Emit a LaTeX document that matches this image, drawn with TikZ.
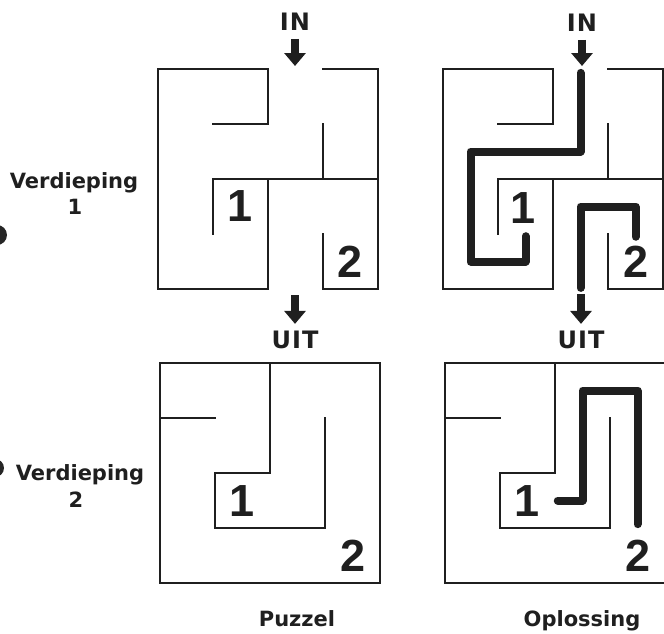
\documentclass[tikz,border=0pt]{standalone}
\usepackage{fontspec}
\setmainfont{DejaVu Sans}
\newfontfamily\digitfont{Liberation Sans}
\usetikzlibrary{arrows.meta}
\begin{document}
\begin{tikzpicture}[x=1pt,y=-1pt,
  wall/.style={line width=2.4pt, line cap=rect, color=black!88},
  sol/.style={line width=8pt, line cap=round, line join=round, color=black!88},
  lbl/.style={font=\fontsize{21}{23}\selectfont\bfseries, inner sep=0pt, text=black!88},
  biglbl/.style={font=\fontsize{24}{26}\selectfont\bfseries, inner sep=0pt, text=black!88},
  num/.style={font=\fontsize{45}{45}\selectfont\digitfont\bfseries, inner sep=0pt, text=black!88},
  arr/.style={line width=7.5pt, -{Triangle[width=21pt,length=13pt]}, color=black!88},
  blob/.style={fill=black!85}]
\useasboundingbox (0,0) rectangle (664,633);

% ---- Floor 1 walls (puzzle and solution) ----
\foreach \ox in {158,443}{
\begin{scope}[shift={(\ox,69)}, x=55pt, y=-55pt]
  \draw[wall] (2,0)--(0,0)--(0,4)--(2,4);
  \draw[wall] (3,0)--(4,0)--(4,4)--(3,4)--(3,3);
  \draw[wall] (2,0)--(2,1)--(1,1);
  \draw[wall] (3,1)--(3,2);
  \draw[wall] (1,3)--(1,2)--(4,2);
  \draw[wall] (2,2)--(2,4);
\end{scope}
}
% ---- Floor 2 walls ----
\foreach \ox in {160,445}{
\begin{scope}[shift={(\ox,363)}, x=55pt, y=-55pt]
  \draw[wall] (0,0) rectangle (4,4);
  \draw[wall] (2,0)--(2,2)--(1,2)--(1,3)--(3,3)--(3,1);
  \draw[wall] (0,1)--(1,1);
\end{scope}
}

% ---- Solution paths ----
\begin{scope}[shift={(443,69)}, x=55pt, y=-55pt]
  \draw[sol] (2.5,0.07)--(2.5,1.5)--(0.5,1.5)--(0.5,3.5)--(1.5,3.5)--(1.5,3.04);
  \draw[sol] (2.5,3.98)--(2.5,2.5)--(3.5,2.5)--(3.5,3.05);
\end{scope}
\begin{scope}[shift={(445,363)}, x=55pt, y=-55pt]
  \draw[sol] (2.05,2.5)--(2.5,2.5)--(2.5,0.5)--(3.5,0.5)--(3.5,2.93);
\end{scope}

% ---- Numbers ----
\node[num] (n1a) at (240.5,206.5) {1};
\node[num] (n2a) at (350.5,262) {2};
\node[num] (n1b) at (523,208) {1};
\node[num] (n2b) at (636,262) {2};
\node[num] (n1c) at (242.5,501) {1};
\node[num] (n2c) at (353,556) {2};
\node[num] (n1d) at (527,501) {1};
\node[num] (n2d) at (638,556) {2};

% ---- IN / UIT labels and arrows ----
\node[biglbl] (inL) at (295,22) {I\kern1pt N};
\node[biglbl] (inR) at (582,23) {I\kern1pt N};
\node[biglbl] (uitL) at (295,340) {U\kern1pt I\kern1pt T};
\node[biglbl] (uitR) at (581,340) {U\kern1pt I\kern1pt T};
\coordinate (inLtip) at (295,66);
\coordinate (inRtip) at (582,66);
\coordinate (uitLtop) at (295,295);
\coordinate (uitRtop) at (581,294);
\draw[arr] ([yshift=-8pt]inL.south) -- (inLtip);
\draw[arr] ([yshift=-8pt]inR.south) -- (inRtip);
\draw[arr] (uitLtop) -- ([yshift=7pt]uitL.north);
\draw[arr] (uitRtop) -- ([yshift=7pt]uitR.north);

% ---- Side labels ----
\node[lbl] (v1) at (74,183) {Verdieping};
\node[lbl] (v1n) at (75,207) {1};
\node[lbl] (v2) at (80,475) {Verdieping};
\node[lbl] (v2n) at (76,500) {2};

% ---- Captions ----
\node[lbl, anchor=base] (puz) at (297,626) {Puzzel};
\node[lbl, anchor=base] (opl) at (582,626) {Oplossing};

% ---- Blobs at left edge ----
\fill[blob] (-3,235) circle (10);
\fill[blob] (-5,468) circle (9);
\end{tikzpicture}
\end{document}
